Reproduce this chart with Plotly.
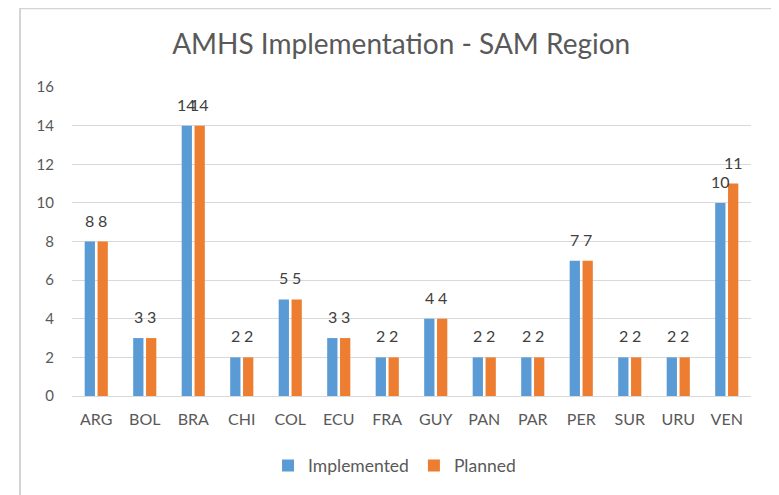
import plotly.graph_objects as go

categories = ["ARG", "BOL", "BRA", "CHI", "COL", "ECU", "FRA", "GUY", "PAN", "PAR", "PER", "SUR", "URU", "VEN"]
implemented = [8, 3, 14, 2, 5, 3, 2, 4, 2, 2, 7, 2, 2, 10]
planned = [8, 3, 14, 2, 5, 3, 2, 4, 2, 2, 7, 2, 2, 11]
y_ticks = [0, 2, 4, 6, 8, 10, 12, 14, 16]

FONT = "Lato, Open Sans, sans-serif"
GREY = "#595959"
LABEL = "#404040"

fig = go.Figure()
fig.add_trace(go.Bar(
    x=categories, y=implemented, name="Implemented",
    marker=dict(color="#5B9BD5", line=dict(width=0)),
))
fig.add_trace(go.Bar(
    x=categories, y=planned, name="Planned",
    marker=dict(color="#ED7D31", line=dict(width=0)),
))

annotations = []
for series, shift in ((implemented, -6.4), (planned, 6.6)):
    for c, v in zip(categories, series):
        annotations.append(dict(
            x=c, y=v, xref="x", yref="y", text=str(v), showarrow=False,
            xshift=shift, yshift=10, yanchor="bottom", xanchor="center",
            font=dict(family=FONT, size=16, color=LABEL),
        ))

fig.update_layout(
    width=771, height=487,
    margin=dict(l=64, r=28, t=79, b=99),
    paper_bgcolor="white", plot_bgcolor="white",
    title=dict(text="AMHS Implementation - SAM Region", x=0.51, xanchor="center",
               y=0.925, yanchor="middle",
               font=dict(family=FONT, size=28, color=GREY)),
    barmode="group", bargap=0.47, bargroupgap=0.2,
    showlegend=True,
    legend=dict(orientation="h", x=0.475, xanchor="center", y=-0.225, yanchor="middle",
                font=dict(family=FONT, size=17.5, color=GREY), itemwidth=30,
                traceorder="normal"),
    xaxis=dict(showgrid=False, showline=True, linecolor="#D9D9D9", linewidth=1,
               ticks="", tickfont=dict(family=FONT, size=16, color=GREY),
               ticklabelstandoff=9),
    yaxis=dict(range=[0, 16], tickvals=y_ticks, showgrid=True, gridcolor="#D9D9D9",
               gridwidth=1, zeroline=False, showline=False, ticks="",
               tickfont=dict(family=FONT, size=15, color=GREY),
               ticklabelstandoff=17),
    annotations=annotations,
    shapes=[dict(type="rect", xref="paper", yref="paper",
                 x0=-0.0766, x1=1.035, y0=-0.45, y1=1.255,
                 line=dict(color="#D4D4D4", width=2), fillcolor="rgba(0,0,0,0)",
                 layer="below")],
)

fig.write_html("out.html")
